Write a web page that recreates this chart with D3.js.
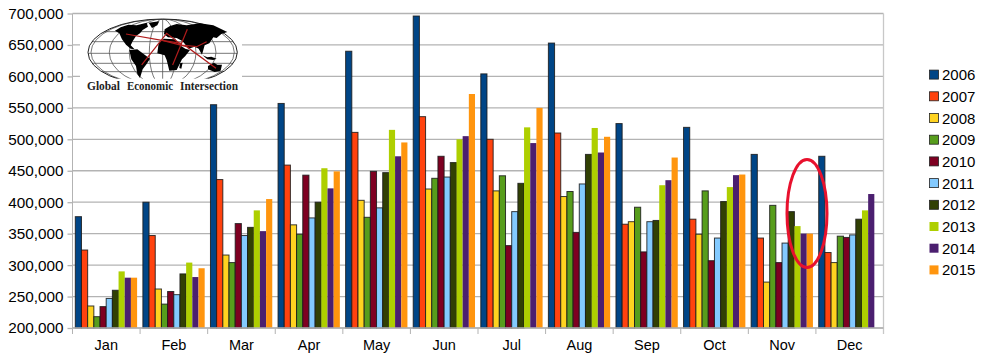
<!DOCTYPE html>
<html>
<head>
<meta charset="utf-8">
<script src="https://cdn.jsdelivr.net/npm/d3@7"></script>
<style>
    html, body { margin: 0; padding: 0; background: #fff; }
    svg { display: block; font-family: "Liberation Sans", sans-serif; }
</style>
</head>
<body>
<div id="chart"></div>
<script>
const months = ['Jan', 'Feb', 'Mar', 'Apr', 'May', 'Jun', 'Jul', 'Aug', 'Sep', 'Oct', 'Nov', 'Dec'];
const years = ['2006', '2007', '2008', '2009', '2010', '2011', '2012', '2013', '2014', '2015'];
const yTicks = [200000, 250000, 300000, 350000, 400000, 450000, 500000, 550000, 600000, 650000, 700000];

const v2006 = [377000, 400000, 555000, 557000, 640000, 696000, 604000, 653000, 525000, 519000, 476000, 473000];
const v2007 = [324000, 347000, 436000, 459000, 511000, 536000, 500000, 510000, 365000, 373000, 343000, 320000];
const v2008 = [235000, 262000, 316000, 364000, 403000, 421000, 418000, 409000, 369000, 349000, 273000, 304000];
const v2009 = [218000, 238000, 304000, 349000, 376000, 438000, 442000, 417000, 392000, 418000, 395000, 346000];
const v2010 = [234000, 258000, 366000, 443000, 449000, 473000, 331000, 352000, 321000, 307000, 304000, 344000];
const v2011 = [247000, 253000, 347000, 375000, 391000, 440000, 385000, 429000, 369000, 343000, 335000, 348000];
const v2012 = [260000, 286000, 360000, 400000, 447000, 463000, 430000, 476000, 371000, 401000, 385000, 373000];
const v2013 = [290000, 304000, 387000, 454000, 515000, 500000, 519000, 518000, 427000, 424000, 362000, 387000];
const v2014 = [280000, 281000, 354000, 422000, 473000, 505000, 494000, 479000, 435000, 443000, 350000, 413000];
const v2015 = [280000, 295000, 405000, 449000, 495000, 572000, 550000, 504000, 471000, 444000, 350000, null];

const seriesValues = [v2006, v2007, v2008, v2009, v2010, v2011, v2012, v2013, v2014, v2015];
const barColors = ['#004586', '#ff420e', '#ffd320', '#579d1c', '#7e0021', '#83caff', '#314004', '#aecf00', '#4b1f6f', '#ff950e'];
// the last three series have no dark outline in the picture
const outlined = ['2006', '2007', '2008', '2009', '2010', '2011', '2012'];

const width = 983,
    height = 361,
    plotLeft = 72.5,
    plotRight = 883.5,
    plotTop = 13.5,
    plotBottom = 328;

const svg = d3.select('#chart').append('svg')
    .attr('width', width)
    .attr('height', height);

const scaleMonth = d3.scaleBand().domain(months).range([plotLeft, plotRight]);
const scaleYear = d3.scaleBand().domain(years).range([2.8, 64.6]);
const scaleY = d3.scaleLinear().domain([200000, 700000]).range([plotBottom, plotTop]);
const scaleColor = d3.scaleOrdinal(years, barColors);

// Axes and grid
const yAxis = d3.axisLeft(scaleY)
    .tickValues(yTicks)
    .tickFormat(d3.format(','))
    .tickSize(5)
    .tickPadding(4);

const yAxisG = svg.append('g')
    .attr('transform', `translate(${plotLeft}, 0)`)
    .call(yAxis);

yAxisG.selectAll('line').attr('stroke', '#b3b3b3').attr('stroke-width', 1.3);
yAxisG.select('.domain').remove();
yAxisG.selectAll('text')
    .attr('font-size', 15.3)
    .attr('font-family', '"Liberation Sans", sans-serif')
    .attr('fill', '#000');

svg.append('g').selectAll('line')
    .data(yTicks)
    .enter()
    .append('line')
    .attr('x1', plotLeft)
    .attr('x2', plotRight)
    .attr('y1', (d) => scaleY(d))
    .attr('y2', (d) => scaleY(d))
    .attr('stroke', '#b3b3b3')
    .attr('stroke-width', 1.3);

svg.append('line')
    .attr('x1', plotLeft).attr('x2', plotLeft)
    .attr('y1', plotTop).attr('y2', plotBottom + 6)
    .attr('stroke', '#b3b3b3');
svg.append('line')
    .attr('x1', plotRight).attr('x2', plotRight)
    .attr('y1', plotTop).attr('y2', plotBottom + 6)
    .attr('stroke', '#c8c8c8')
    .attr('stroke-width', 1.3);

const xAxis = d3.axisBottom(scaleMonth).tickSize(0).tickPadding(12);
const xAxisG = svg.append('g')
    .attr('transform', `translate(0, ${plotBottom})`)
    .call(xAxis);
xAxisG.select('.domain').remove();
xAxisG.selectAll('text')
    .attr('font-size', 14.5)
    .attr('font-family', '"Liberation Sans", sans-serif')
    .attr('fill', '#000');

svg.append('g').selectAll('line')
    .data(months)
    .enter()
    .append('line')
    .attr('x1', (d) => scaleMonth(d))
    .attr('x2', (d) => scaleMonth(d))
    .attr('y1', plotBottom)
    .attr('y2', plotBottom + 6)
    .attr('stroke', '#b3b3b3');

// Bars
const barWidth = scaleYear.bandwidth();

years.forEach((year, i) => {
    const rows = months
        .map((month, m) => ({month, value: seriesValues[i][m]}))
        .filter((row) => row.value !== null);

    svg.append('g').selectAll('rect')
        .data(rows)
        .enter()
        .append('rect')
        .attr('x', (row) => scaleMonth(row.month) + scaleYear(year))
        .attr('y', (row) => scaleY(row.value))
        .attr('width', barWidth)
        .attr('height', (row) => plotBottom - scaleY(row.value))
        .attr('fill', scaleColor(year))
        .attr('stroke', outlined.includes(year) ? '#1a1a1a' : 'none')
        .attr('stroke-opacity', 0.85)
        .attr('stroke-width', 1);
});

svg.append('line')
    .attr('x1', plotLeft).attr('x2', plotRight)
    .attr('y1', plotBottom).attr('y2', plotBottom)
    .attr('stroke', '#b3b3b3')
    .attr('stroke-width', 1.3);

// Legend
const legend = svg.append('g').selectAll('g')
    .data(years)
    .enter()
    .append('g')
    .attr('transform', (d, i) => `translate(929.5, ${74.6 + i * 21.7})`);

legend.append('rect')
    .attr('x', 0)
    .attr('y', -4.5)
    .attr('width', 9)
    .attr('height', 9)
    .attr('fill', scaleColor)
    .attr('stroke', (d) => outlined.includes(d) ? '#222' : 'none')
    .attr('stroke-width', 0.8);

legend.append('text')
    .attr('x', 12.5)
    .attr('y', 5.5)
    .attr('font-size', 15)
    .attr('fill', '#000')
    .text((d) => d);

// Red ring around the Nov 2013-2015 bars
svg.append('ellipse')
    .attr('cx', 807)
    .attr('cy', 213.5)
    .attr('rx', 20)
    .attr('ry', 54)
    .attr('fill', 'none')
    .attr('stroke', '#e8112d')
    .attr('stroke-width', 3);

// Logo, on a white patch that hides the grid. Path points are in 3x pixels.
const logo = svg.append('g');

logo.append('rect')
    .attr('x', 80).attr('y', 15)
    .attr('width', 162).attr('height', 78)
    .attr('fill', '#fff');

const globe = logo.append('g').attr('transform', 'scale(0.3333)');

globe.append('defs').append('clipPath')
    .attr('id', 'globe-clip')
    .append('ellipse')
    .attr('cx', 488).attr('cy', 157)
    .attr('rx', 224).attr('ry', 100);

const globeLines = globe.append('g')
    .attr('clip-path', 'url(#globe-clip)')
    .attr('fill', 'none')
    .attr('stroke', '#555')
    .attr('stroke-width', 2.4);

[40, 100, 160, 215].forEach((rx) => {
    globeLines.append('ellipse')
        .attr('cx', 488).attr('cy', 157)
        .attr('rx', rx).attr('ry', 100);
});
globeLines.append('line').attr('x1', 488).attr('x2', 488).attr('y1', 50).attr('y2', 260);
[95, 125, 160, 190, 215].forEach((y) => {
    globeLines.append('line')
        .attr('x1', 260).attr('x2', 715)
        .attr('y1', y).attr('y2', y);
});

globe.append('ellipse')
    .attr('cx', 488).attr('cy', 157)
    .attr('rx', 224).attr('ry', 100)
    .attr('fill', 'none')
    .attr('stroke', '#222')
    .attr('stroke-width', 3);

// white strip under the globe where the title sits
globe.append('rect')
    .attr('x', 250).attr('y', 236)
    .attr('width', 480).attr('height', 42)
    .attr('fill', '#fff');

const land = [
    'M345,92 L362,82 L385,74 L410,76 L440,68 L444,80 L428,90 L420,100 L408,108 L398,124 L392,136 L404,148 L392,146 L378,134 L366,118 L358,100 Z',
    'M446,68 L478,64 L472,76 L456,84 Z',
    'M388,150 L412,148 L428,160 L450,176 L440,192 L428,208 L420,234 L412,222 L408,198 L394,178 Z',
    'M476,130 L492,116 L526,118 L540,136 L556,146 L570,150 L556,168 L546,178 L530,210 L508,212 L500,180 L494,166 L472,160 Z',
    'M494,88 L510,78 L530,72 L560,76 L600,70 L640,76 L682,96 L664,102 L650,114 L640,112 L628,130 L614,136 L606,164 L596,146 L584,140 L566,146 L548,124 L530,114 L504,112 L492,102 Z',
    'M624,198 L642,188 L652,194 L666,194 L662,212 L644,216 L624,208 Z',
    'M608,166 L622,172 L634,170 L650,176 L640,180 L622,178 Z',
    'M540,190 L548,188 L544,206 L538,204 Z'
];

globe.append('g').selectAll('path')
    .data(land)
    .enter()
    .append('path')
    .attr('d', (d) => d)
    .attr('fill', '#000');

const routes = [
    'M378,102 L490,122 L560,140 L648,205',
    'M425,195 L500,100 L545,135 L590,140 L620,125',
    'M518,195 L562,88',
    'M490,122 L545,130'
];

globe.append('g').selectAll('path')
    .data(routes)
    .enter()
    .append('path')
    .attr('d', (d) => d)
    .attr('fill', 'none')
    .attr('stroke', '#b01c1c')
    .attr('stroke-width', 3.6);

const logoWords = [
    {text: 'Global', x: 87, w: 33},
    {text: 'Economic', x: 127, w: 46},
    {text: 'Intersection', x: 180, w: 58}
];

logo.selectAll('text')
    .data(logoWords)
    .enter()
    .append('text')
    .attr('x', (d) => d.x)
    .attr('y', 90)
    .attr('textLength', (d) => d.w)
    .attr('lengthAdjust', 'spacingAndGlyphs')
    .attr('font-family', '"Liberation Serif", serif')
    .attr('font-weight', 'bold')
    .attr('font-size', 11.5)
    .attr('fill', '#222')
    .text((d) => d.text);
</script>
</body>
</html>
